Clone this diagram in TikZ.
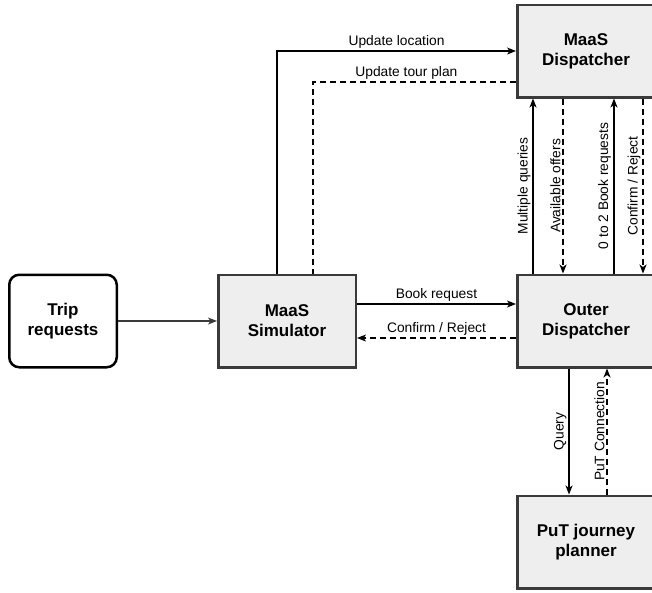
\documentclass[tikz,border=0pt]{standalone}
\usepackage{fontspec}
\setmainfont{Liberation Sans}
\usepackage{xcolor}
\usetikzlibrary{arrows.meta, positioning}
\definecolor{boxfill}{HTML}{EEEEEE}
\definecolor{boxgray}{HTML}{3A3A3A}
\tikzstyle{arrow} = [-{Stealth[length=9pt,width=7pt,inset=2.5pt]}, line width=1.2pt]
\tikzstyle{dash-arrow} = [arrow, dash pattern=on 6pt off 4pt]
\tikzstyle{dash-line} = [line width=1.2pt, dash pattern=on 6pt off 4pt]
\tikzstyle{block} = [rectangle, draw=boxgray, fill=boxfill, line width=2.5pt, minimum width=137.5pt, minimum height=92.5pt, align=center, font=\fontsize{17}{20}\selectfont\bfseries]
\tikzstyle{lbl} = [font=\fontsize{13.8}{16}\selectfont, inner sep=2pt]
\begin{document}
\begin{tikzpicture}[x=1pt, y=-1pt, node distance=99pt]
  \useasboundingbox (0,0) rectangle (652,592);
  \clip (0,0) rectangle (652,592);

  % Nodes
  \node (trip) [block, fill=white, draw=black, rounded corners=10pt, minimum width=107.5pt] at (63,321) {Trip\\requests};
  \node (sim) [block, right=99pt of trip] {MaaS\\Simulator};
  \node (outer) [block, right=159pt of sim] {Outer\\Dispatcher};
  \node (disp) [block, above=175pt of outer] {MaaS\\Dispatcher};
  \node (put) [block, below=126pt of outer] {PuT journey\\planner};

  % Simulator side
  \draw[arrow, draw=boxgray] (trip) -- (sim);
  \draw[arrow] ([xshift=-10pt]sim.north) |- node[lbl, above, pos=0.75] {Update location} (disp.west);
  \draw[dash-line] ([yshift=-31pt]disp.west) -| node[lbl, above, pos=0.27] {Update tour plan} ([xshift=26pt]sim.north);
  \draw[arrow] ([yshift=17pt]sim.east) -- node[lbl, above] {Book request} ([yshift=17pt]sim.east -| outer.west);
  \draw[dash-arrow] ([yshift=-17pt]outer.west) -- node[lbl, above] {Confirm / Reject} ([yshift=-17pt]outer.west -| sim.east);

  % Outer <-> MaaS dispatcher
  \draw[arrow] ([xshift=17pt]outer.north west) -- node[lbl, rotate=90, anchor=south] {Multiple queries} ([xshift=17pt]disp.south west);
  \draw[dash-arrow] ([xshift=47pt]disp.south west) -- node[lbl, rotate=90, anchor=south] {Available offers} ([xshift=47pt]outer.north west);
  \draw[arrow, line width=1.8pt] ([xshift=98pt]outer.north west) -- node[lbl, rotate=90, anchor=south] {0 to 2 Book requests} ([xshift=98pt]disp.south west);
  \draw[dash-arrow] ([xshift=127pt]disp.south west) -- node[lbl, rotate=90, anchor=south] {Confirm / Reject} ([xshift=127pt]outer.north west);

  % Outer <-> PuT planner
  \draw[arrow] ([xshift=-17pt]outer.south) -- node[lbl, rotate=90, anchor=south] {Query} ([xshift=-17pt]put.north);
  \draw[dash-arrow] ([xshift=21pt]put.north) -- node[lbl, rotate=90, anchor=south] {PuT Connection} ([xshift=21pt]outer.south);

\end{tikzpicture}
\end{document}
